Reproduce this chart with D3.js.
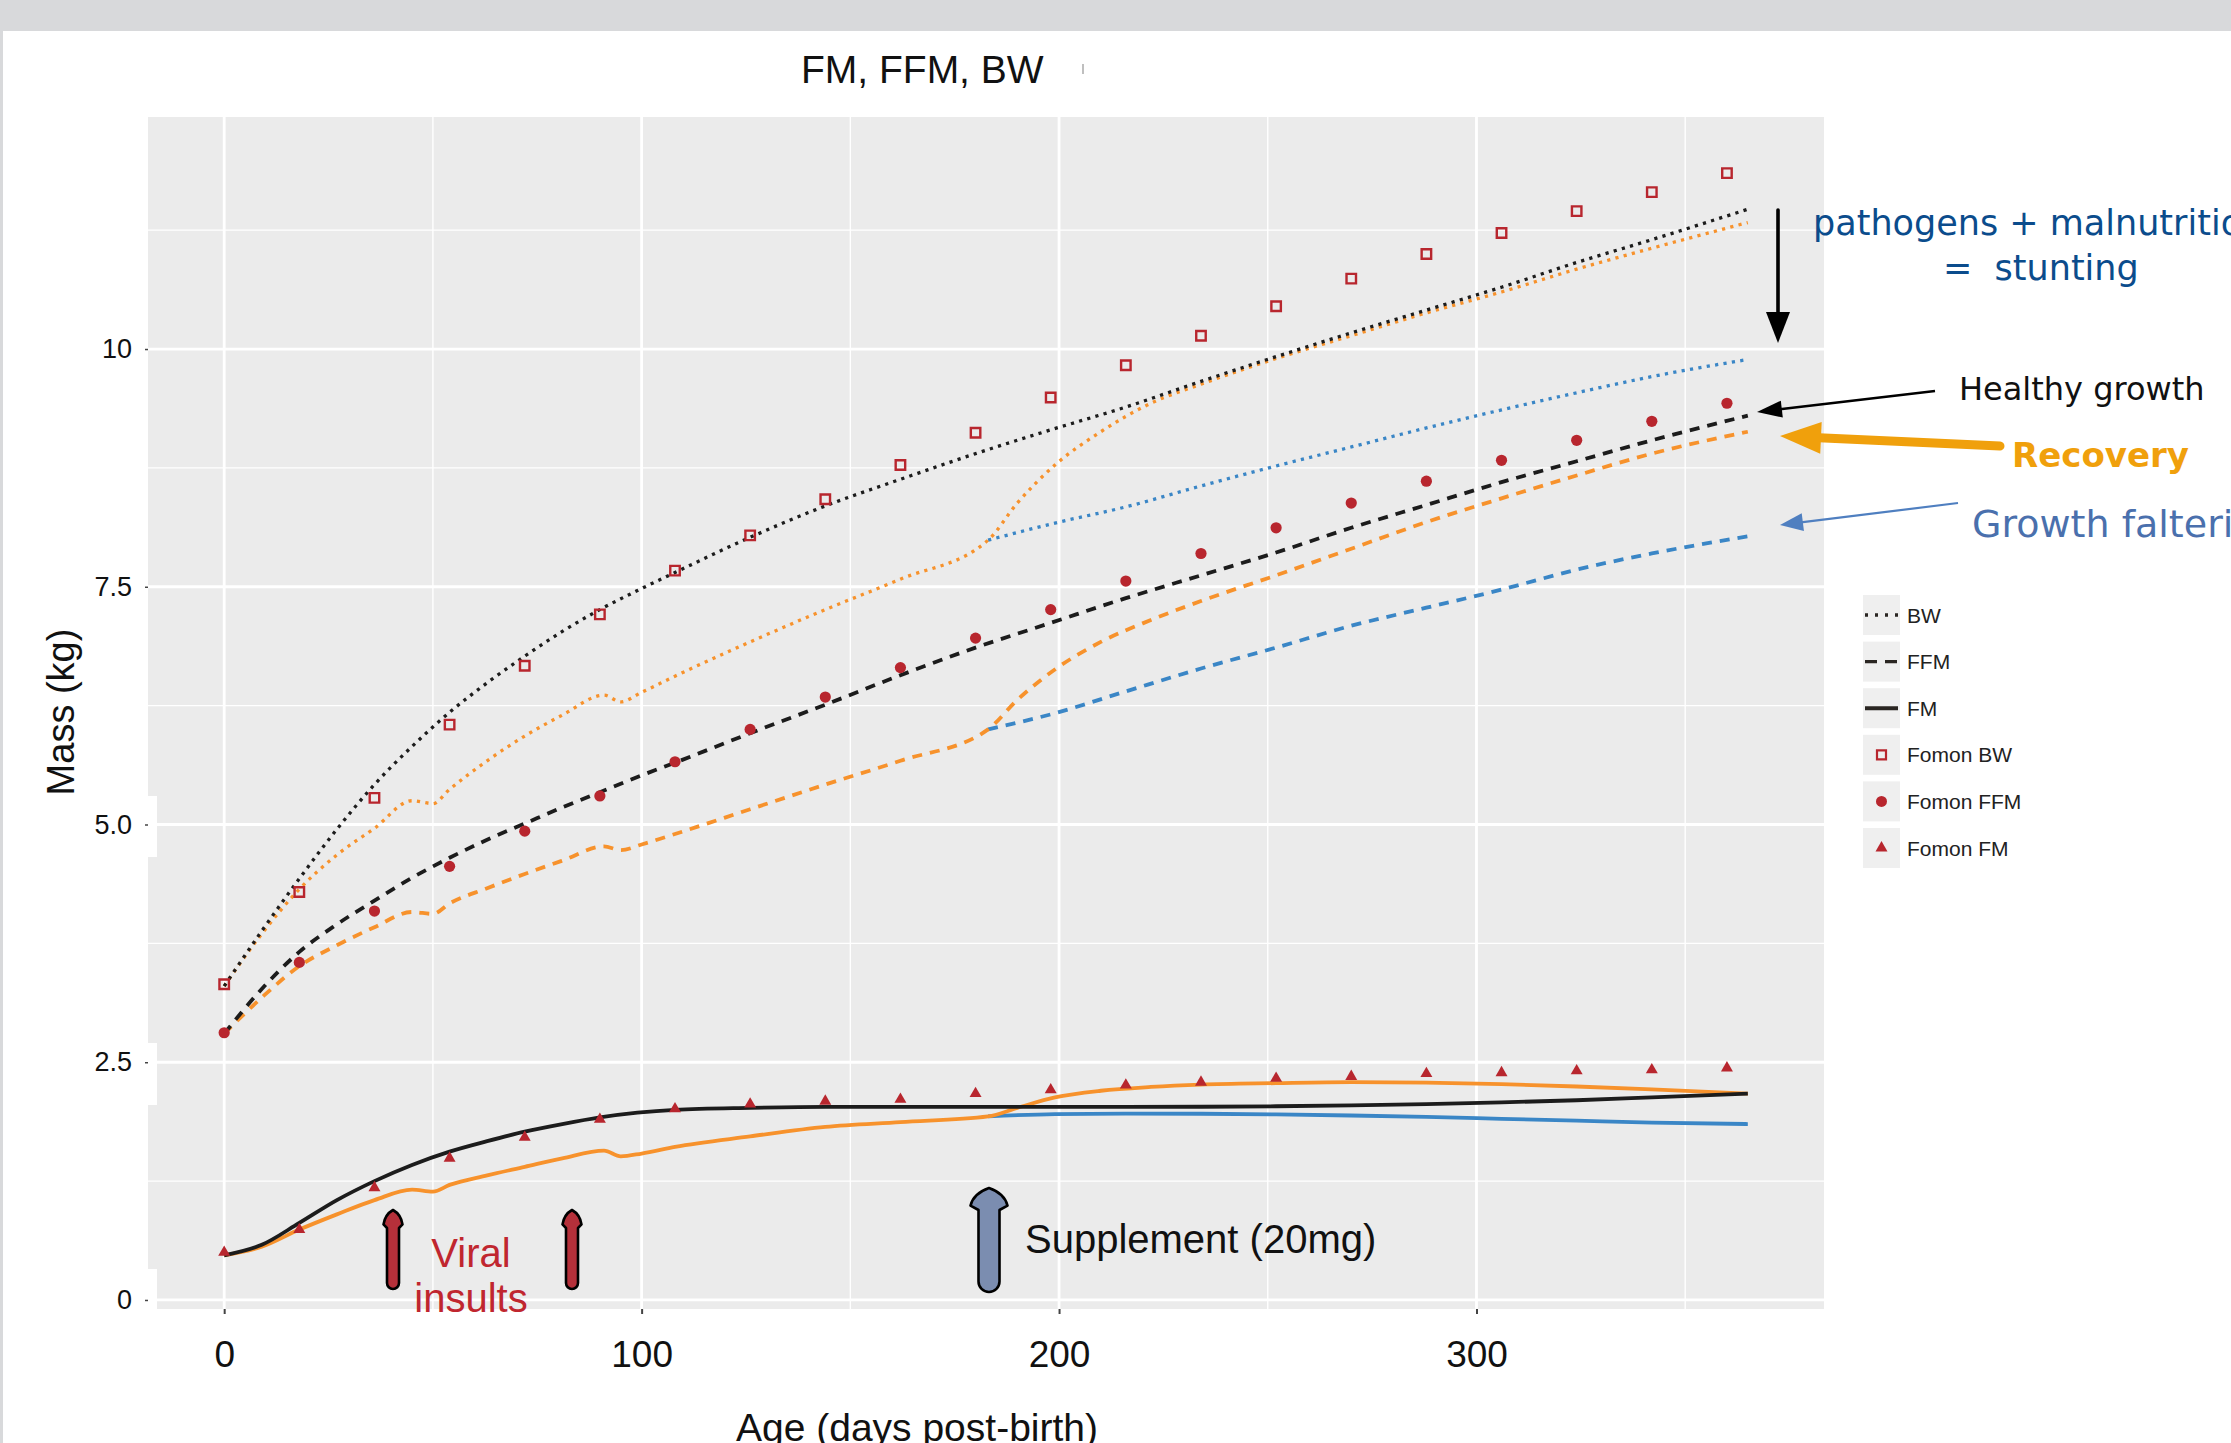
<!DOCTYPE html>
<html lang="en">
<head>
<meta charset="utf-8">
<title>FM, FFM, BW</title>
<script src="https://cdn.jsdelivr.net/npm/d3@7"></script>
<style>
  html, body { margin: 0; padding: 0; background: #fff; }
  svg { display: block; }
  .sans { font-family: "Liberation Sans", Arial, Helvetica, sans-serif; }
  .note { font-family: "DejaVu Sans", sans-serif; }
</style>
</head>
<body>
<svg id="chart" width="2231" height="1443"></svg>
<script>
// Fomon reference points (days, kg)
const fomonDays = [0, 18, 36, 54, 72, 90, 108, 126, 144, 162, 180, 198, 216, 234, 252, 270, 288, 306, 324, 342, 360];
const fomonBW  = [3.32, 4.29, 5.28, 6.05, 6.67, 7.21, 7.67, 8.04, 8.42, 8.78, 9.12, 9.49, 9.83, 10.14, 10.45, 10.74, 11.00, 11.22, 11.45, 11.65, 11.85];
const fomonFFM = [2.81, 3.55, 4.09, 4.56, 4.93, 5.30, 5.66, 6.00, 6.34, 6.65, 6.96, 7.26, 7.56, 7.85, 8.12, 8.38, 8.61, 8.83, 9.04, 9.24, 9.43];
const fomonFM  = [0.50, 0.74, 1.18, 1.49, 1.71, 1.90, 2.01, 2.06, 2.09, 2.11, 2.17, 2.21, 2.26, 2.29, 2.33, 2.35, 2.38, 2.39, 2.41, 2.42, 2.44];

// healthy growth model (black)
const healthyDays = [0, 9, 18, 27, 36, 45, 54, 63, 72, 81, 90, 99, 108, 126, 144, 162, 180, 198, 216, 234, 252, 270, 288, 306, 324, 342, 365];
const healthyBW  = [3.30, 3.88, 4.43, 4.95, 5.42, 5.82, 6.18, 6.49, 6.77, 7.03, 7.26, 7.46, 7.65, 8.02, 8.35, 8.63, 8.90, 9.15, 9.39, 9.66, 9.92, 10.17, 10.41, 10.65, 10.91, 11.15, 11.47];
const healthyFFM = [2.80, 3.27, 3.66, 3.95, 4.20, 4.44, 4.65, 4.84, 5.01, 5.18, 5.34, 5.50, 5.65, 5.96, 6.26, 6.57, 6.86, 7.12, 7.38, 7.62, 7.86, 8.12, 8.36, 8.60, 8.82, 9.04, 9.30];
const healthyFM  = [0.47, 0.58, 0.81, 1.05, 1.25, 1.42, 1.56, 1.67, 1.77, 1.85, 1.92, 1.97, 2.00, 2.02, 2.03, 2.03, 2.03, 2.03, 2.03, 2.032, 2.037, 2.046, 2.06, 2.078, 2.10, 2.13, 2.17];

// viral insults, then supplement at day 183 (orange)
const recoveryDays = [0, 9, 18, 27, 36, 45, 50, 54, 63, 72, 81, 91, 95, 100, 108, 126, 144, 162, 183, 190, 199, 210, 222, 234, 252, 270, 288, 306, 324, 342, 365];
const recoveryBW  = [3.30, 3.85, 4.32, 4.68, 4.96, 5.25, 5.22, 5.37, 5.67, 5.93, 6.15, 6.36, 6.29, 6.39, 6.56, 6.92, 7.26, 7.58, 7.99, 8.38, 8.78, 9.13, 9.43, 9.63, 9.90, 10.14, 10.38, 10.60, 10.84, 11.06, 11.33];
const recoveryFFM = [2.80, 3.18, 3.51, 3.73, 3.92, 4.08, 4.06, 4.17, 4.33, 4.48, 4.62, 4.77, 4.73, 4.79, 4.90, 5.16, 5.42, 5.67, 6.00, 6.31, 6.63, 6.92, 7.15, 7.35, 7.62, 7.90, 8.18, 8.43, 8.67, 8.90, 9.13];
const recoveryFM  = [0.47, 0.56, 0.74, 0.90, 1.05, 1.16, 1.14, 1.21, 1.31, 1.40, 1.49, 1.57, 1.51, 1.54, 1.61, 1.72, 1.82, 1.87, 1.93, 2.02, 2.13, 2.20, 2.24, 2.265, 2.28, 2.29, 2.285, 2.27, 2.245, 2.215, 2.17];

// no supplement, faltering continues (blue)
const falterDays = [183, 199, 216, 234, 252, 270, 288, 306, 324, 342, 365];
const falterBW  = [7.99, 8.17, 8.34, 8.56, 8.77, 8.97, 9.17, 9.36, 9.54, 9.71, 9.89];
const falterFFM = [6.00, 6.17, 6.40, 6.64, 6.86, 7.09, 7.28, 7.47, 7.68, 7.85, 8.03];
const falterFM  = [1.93, 1.955, 1.96, 1.958, 1.952, 1.94, 1.925, 1.905, 1.885, 1.865, 1.85];

const yTicks = [0, 2.5, 5, 7.5, 10];
const yTickLabels = ["0", "2.5", "5.0", "7.5", "10"];
const xTicks = [0, 100, 200, 300];
const legendLabels = ["BW", "FFM", "FM", "Fomon BW", "Fomon FFM", "Fomon FM"];

const RED = "#b8262e", ORANGE = "#f7922c", BLUE = "#3a86c6", BLACK = "#1c1c1c";
const dotted = "3.2,5.3", dashed = "10,8";

const svg = d3.select("#chart");

// page frame
svg.append("rect").attr("x", 0).attr("y", 0).attr("width", 2231).attr("height", 31).attr("fill", "#d8d9db");
svg.append("rect").attr("x", 0).attr("y", 31).attr("width", 3).attr("height", 1412).attr("fill", "#d8d9db");

const x = d3.scaleLinear().domain([-18.25, 383.25]).range([148, 1824]);
const y = d3.scaleLinear().domain([-0.095, 12.44]).range([1309, 117]);

// panel + grid
svg.append("rect").attr("x", x.range()[0]).attr("y", y.range()[1])
  .attr("width", x.range()[1] - x.range()[0]).attr("height", y.range()[0] - y.range()[1])
  .attr("fill", "#ebebeb");

const grid = svg.append("g");
[1.25, 3.75, 6.25, 8.75, 11.25].forEach(v => grid.append("line")
  .attr("x1", 148).attr("x2", 1824).attr("y1", y(v)).attr("y2", y(v))
  .attr("stroke", "#fff").attr("stroke-width", 1.4));
[50, 150, 250, 350].forEach(v => grid.append("line")
  .attr("y1", 117).attr("y2", 1309).attr("x1", x(v)).attr("x2", x(v))
  .attr("stroke", "#fff").attr("stroke-width", 1.4));
yTicks.forEach(v => grid.append("line")
  .attr("x1", 148).attr("x2", 1824).attr("y1", y(v)).attr("y2", y(v))
  .attr("stroke", "#fff").attr("stroke-width", 2.8));
xTicks.forEach(v => grid.append("line")
  .attr("y1", 117).attr("y2", 1309).attr("x1", x(v)).attr("x2", x(v))
  .attr("stroke", "#fff").attr("stroke-width", 2.8));

// white label patches (pasted labels in the original figure)
[[796, 61], [1043, 62], [1269, 44]].forEach(([t, h]) => svg.append("rect")
  .attr("x", 100).attr("y", t).attr("width", 57).attr("height", h).attr("fill", "#fff"));

// axes
const yAxis = svg.append("g").attr("transform", "translate(148,0)")
  .call(d3.axisLeft(y).tickValues(yTicks).tickFormat((d, i) => yTickLabels[i]).tickSize(3).tickPadding(13));
yAxis.select(".domain").remove();
yAxis.selectAll("line").attr("stroke", "#444").attr("stroke-width", 1.5);
yAxis.selectAll("text").attr("class", "sans").attr("font-size", 27).attr("fill", "#111");

const xAxis = svg.append("g").attr("transform", "translate(0,1309)")
  .call(d3.axisBottom(x).tickValues(xTicks).tickFormat(d3.format("d")).tickSize(5).tickPadding(27));
xAxis.select(".domain").remove();
xAxis.selectAll("line").attr("stroke", "#444").attr("stroke-width", 2);
xAxis.selectAll("text").attr("class", "sans").attr("font-size", 37).attr("fill", "#111");

// lines
const lineOf = (days, vals) => d3.line()
  .x((d, i) => x(days[i])).y(d => y(d)).curve(d3.curveMonotoneX)(vals);

const lines = svg.append("g").attr("fill", "none");
function drawLine(days, vals, color, dash, w) {
  lines.append("path").attr("d", lineOf(days, vals))
    .attr("stroke", color).attr("stroke-width", w)
    .attr("stroke-dasharray", dash || null);
}
drawLine(falterDays, falterBW, BLUE, dotted, 3.3);
drawLine(falterDays, falterFFM, BLUE, dashed, 3.8);
drawLine(falterDays, falterFM, BLUE, null, 3.8);
drawLine(recoveryDays, recoveryBW, ORANGE, dotted, 3.3);
drawLine(recoveryDays, recoveryFFM, ORANGE, dashed, 3.8);
drawLine(recoveryDays, recoveryFM, ORANGE, null, 3.8);
drawLine(healthyDays, healthyBW, BLACK, dotted, 3.3);
drawLine(healthyDays, healthyFFM, BLACK, dashed, 3.8);
drawLine(healthyDays, healthyFM, BLACK, null, 3.8);

// Fomon points
const pts = svg.append("g");
pts.selectAll(".sq").data(fomonBW).join("path")
  .attr("d", d3.symbol(d3.symbolSquare, 90))
  .attr("transform", (d, i) => `translate(${x(fomonDays[i])},${y(d)})`)
  .attr("fill", "none").attr("stroke", RED).attr("stroke-width", 2.4);
pts.selectAll(".ci").data(fomonFFM).join("circle")
  .attr("cx", (d, i) => x(fomonDays[i])).attr("cy", d => y(d)).attr("r", 5.6)
  .attr("fill", RED);
pts.selectAll(".tr").data(fomonFM).join("path")
  .attr("d", d3.symbol(d3.symbolTriangle, 62))
  .attr("transform", (d, i) => `translate(${x(fomonDays[i])},${y(d)})`)
  .attr("fill", RED);

// titles
svg.append("text").attr("class", "sans").attr("x", 801).attr("y", 83)
  .attr("font-size", 39).attr("fill", "#111").text("FM, FFM, BW");
svg.append("line").attr("x1", 1083).attr("x2", 1083).attr("y1", 64).attr("y2", 74)
  .attr("stroke", "#aaa").attr("stroke-width", 1.5);
svg.append("text").attr("class", "sans").attr("transform", "translate(74,712) rotate(-90)")
  .attr("text-anchor", "middle").attr("font-size", 38).attr("fill", "#111").text("Mass (kg)");
svg.append("text").attr("class", "sans").attr("x", 917).attr("y", 1441)
  .attr("text-anchor", "middle").attr("font-size", 39).attr("fill", "#111").text("Age (days post-birth)");

// legend
const leg = svg.append("g");
legendLabels.forEach((lab, i) => {
  const cy = 615 + i * 46.6;
  leg.append("rect").attr("x", 1863).attr("y", cy - 20).attr("width", 37).attr("height", 40).attr("fill", "#efefef");
  leg.append("text").attr("class", "sans").attr("x", 1907).attr("y", cy + 7.5)
    .attr("font-size", 21).attr("fill", "#222").text(lab);
  if (i < 3) {
    leg.append("line").attr("x1", 1865).attr("x2", 1898).attr("y1", cy).attr("y2", cy)
      .attr("stroke", "#2a2622").attr("stroke-width", i === 2 ? 4 : 3.4)
      .attr("stroke-dasharray", i === 0 ? "3,7" : i === 1 ? "12,8" : null);
  } else if (i === 3) {
    leg.append("path").attr("d", d3.symbol(d3.symbolSquare, 81)).attr("transform", `translate(1881.5,${cy})`)
      .attr("fill", "none").attr("stroke", RED).attr("stroke-width", 2.2);
  } else if (i === 4) {
    leg.append("circle").attr("cx", 1881.5).attr("cy", cy).attr("r", 5.5).attr("fill", RED);
  } else {
    leg.append("path").attr("d", d3.symbol(d3.symbolTriangle, 62)).attr("transform", `translate(1881.5,${cy})`)
      .attr("fill", RED);
  }
});

// annotations: arrows
const ann = svg.append("g");
function arrow(x1, y1, x2, y2, head, half, w, color, cap) {
  const a = Math.atan2(y2 - y1, x2 - x1);
  const bx = x2 - head * Math.cos(a), by = y2 - head * Math.sin(a);
  ann.append("line").attr("x1", x1).attr("y1", y1)
    .attr("x2", bx + 2 * Math.cos(a)).attr("y2", by + 2 * Math.sin(a))
    .attr("stroke", color).attr("stroke-width", w).attr("stroke-linecap", cap || "butt");
  const px = Math.sin(a) * half, py = -Math.cos(a) * half;
  ann.append("path").attr("d", `M${x2},${y2}L${bx + px},${by + py}L${bx - px},${by - py}Z`).attr("fill", color);
}
arrow(1778, 210, 1778, 343, 31, 12, 3.6, "#000", "round");
arrow(1935, 391, 1757, 412, 25, 8.5, 2.4, "#000");
arrow(2000, 446, 1780, 436, 41, 16, 9, "#f0a00c", "round");
arrow(1958, 503, 1780, 525, 23, 9, 2.2, "#4f7fc0");

function blockArrow(cx, top, bottom, sw, hw, hh, fill) {
  const p = d3.path();
  p.moveTo(cx, top);
  p.quadraticCurveTo(cx + hw * 0.42, top + hh * 0.25, cx + hw / 2, top + hh * 0.8);
  p.lineTo(cx + sw / 2, top + hh);
  p.lineTo(cx + sw / 2, bottom - sw / 2);
  p.arc(cx, bottom - sw / 2, sw / 2, 0, Math.PI);
  p.lineTo(cx - sw / 2, top + hh);
  p.lineTo(cx - hw / 2, top + hh * 0.8);
  p.quadraticCurveTo(cx - hw * 0.42, top + hh * 0.25, cx, top);
  p.closePath();
  ann.append("path").attr("d", p.toString()).attr("fill", fill)
    .attr("stroke", "#000").attr("stroke-width", 2.6).attr("stroke-linejoin", "round");
}
blockArrow(393, 1210, 1289, 12, 19, 18, "#b5303a");
blockArrow(572, 1210, 1289, 12, 19, 18, "#b5303a");
blockArrow(989, 1188, 1292, 21, 37, 22, "#7b8db0");

// annotations: text
ann.append("text").attr("class", "sans").attr("x", 471).attr("y", 1267).attr("text-anchor", "middle")
  .attr("font-size", 40).attr("fill", "#c0262f").text("Viral");
ann.append("text").attr("class", "sans").attr("x", 471).attr("y", 1312).attr("text-anchor", "middle")
  .attr("font-size", 40).attr("fill", "#c0262f").text("insults");
ann.append("text").attr("class", "sans").attr("x", 1025).attr("y", 1253)
  .attr("font-size", 40).attr("fill", "#111").text("Supplement (20mg)");

ann.append("text").attr("class", "note").attr("x", 1813).attr("y", 235)
  .attr("font-size", 35).attr("fill", "#0b4c8c").text("pathogens + malnutrition");
ann.append("text").attr("class", "note").attr("x", 1943).attr("y", 280).style("white-space", "pre")
  .attr("font-size", 35).attr("fill", "#0b4c8c").text("=  stunting");
ann.append("text").attr("class", "note").attr("x", 1959).attr("y", 400)
  .attr("font-size", 32).attr("fill", "#111").text("Healthy growth");
ann.append("text").attr("class", "note").attr("x", 2012).attr("y", 467)
  .attr("font-size", 34).attr("font-weight", "bold").attr("fill", "#f0a00c").text("Recovery");
ann.append("text").attr("class", "note").attr("x", 1972).attr("y", 537)
  .attr("font-size", 38).attr("fill", "#4a70ad").text("Growth faltering");
</script>
</body>
</html>
